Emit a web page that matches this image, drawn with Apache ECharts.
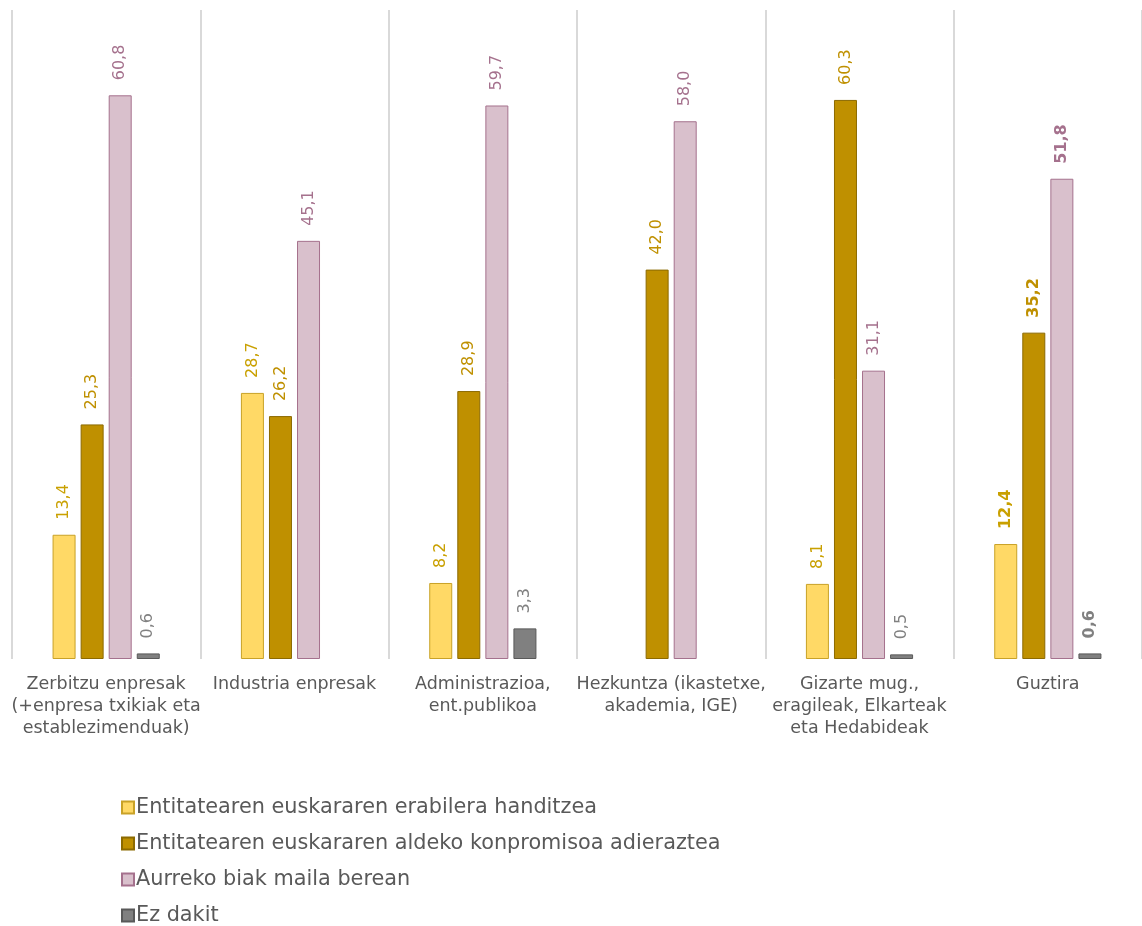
<!DOCTYPE html>
<html>
<head>
<meta charset="utf-8">
<script src="https://cdn.jsdelivr.net/npm/echarts@6/dist/echarts.min.js"></script>
<style>html,body{margin:0;padding:0;background:#fff}#c{width:1142px;height:926px}</style>
</head>
<body>
<div id="c"></div>
<script>
const categories = [
  "Zerbitzu enpresak\n(+enpresa txikiak eta\nestablezimenduak)",
  "Industria enpresak",
  "Administrazioa,\nent.publikoa",
  "Hezkuntza (ikastetxe,\nakademia, IGE)",
  "Gizarte mug.,\neragileak, Elkarteak\neta Hedabideak",
  "Guztira"
];
const seriesNames = [
  "Entitatearen euskararen erabilera handitzea",
  "Entitatearen euskararen aldeko konpromisoa adieraztea",
  "Aurreko biak maila berean",
  "Ez dakit"
];
const erabilera = [13.4, 28.7, 8.2, null, 8.1, 12.4];
const konpromisoa = [25.3, 26.2, 28.9, 42.0, 60.3, 35.2];
const biak = [60.8, 45.1, 59.7, 58.0, 31.1, 51.8];
const ezDakit = [0.6, null, 3.3, null, 0.5, 0.6];
const boldIndex = 5;

const FONT = "DejaVu Sans";
const styles = [
  {fill: "#FFD966", border: "#C9A227", label: "#C9A000"},
  {fill: "#BF9000", border: "#8C6A00", label: "#BF9000"},
  {fill: "#D9C0CC", border: "#A5718D", label: "#A5718D"},
  {fill: "#808080", border: "#595959", label: "#808080"}
];
const allData = [erabilera, konpromisoa, biak, ezDakit];

function fmt(p) { return p.value.toFixed(1).replace('.', ','); }

const series = allData.map((arr, i) => ({
  name: seriesNames[i],
  type: 'bar',
  barWidth: 23,
  barGap: '22%',
  itemStyle: {color: styles[i].fill, borderColor: styles[i].border, borderWidth: 1},
  label: {
    show: true, position: 'top', rotate: 90, align: 'left', verticalAlign: 'middle',
    distance: 15, color: styles[i].label, fontFamily: FONT, fontSize: 16,
    formatter: fmt
  },
  data: arr.map((v, j) => v === null ? '-' : (j === boldIndex ? {value: v, label: {fontWeight: 'bold'}} : v))
}));

const chart = echarts.init(document.getElementById('c'));
chart.setOption({
  animation: false,
  textStyle: {fontFamily: FONT},
  grid: {left: 12, right: -3, top: 10, bottom: 267, containLabel: false},
  legend: {
    orient: 'vertical', left: 121, top: 797, height: 129, itemWidth: 12, itemHeight: 12, itemGap: 15,
    padding: 0,
    icon: 'rect',
    textStyle: {fontFamily: FONT, fontSize: 20.8, lineHeight: 21, color: '#595959', padding: [0, 0, 0, -3]},
    data: seriesNames
  },
  xAxis: {
    type: 'category', data: categories,
    axisLine: {show: false}, axisTick: {show: false},
    splitLine: {show: true, lineStyle: {color: '#D9D9D9', width: 2}},
    axisLabel: {interval: 0, margin: 14, color: '#595959', fontFamily: FONT, fontSize: 17.5, lineHeight: 22}
  },
  yAxis: {type: 'value', min: 0, max: 70, show: false, splitLine: {show: false}},
  series: series
});
</script>
</body>
</html>
